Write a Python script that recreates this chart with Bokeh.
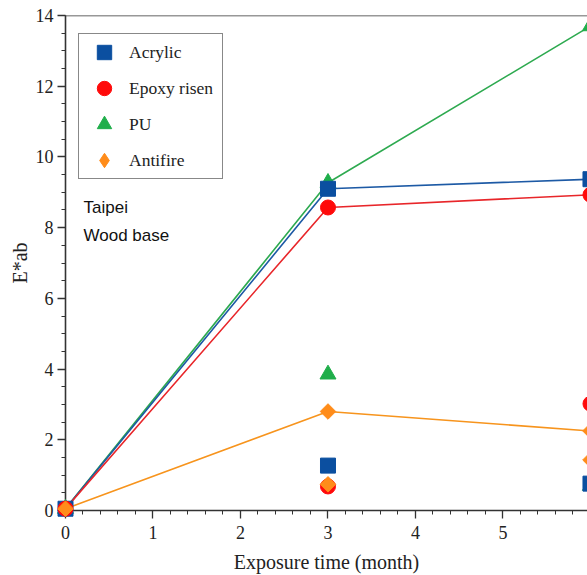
import math
from bokeh.plotting import figure
from bokeh.models import (Legend, LegendItem, Label, Span, SingleIntervalTicker,
                          Range1d)
from bokeh.embed import file_html
from bokeh.resources import INLINE

# ---- data ----
months = [0, 3, 6]
acrylic = [0.05, 9.10, 9.37]
epoxy = [0.05, 8.57, 8.93]
pu = [0.05, 9.27, 13.70]
antifire = [0.05, 2.80, 2.25]

months_b = [3, 6]
acrylic_b = [1.27, 0.76]
epoxy_b = [0.68, 3.02]
pu_b = [3.85, 0.70]
antifire_b = [0.74, 1.43]

series_names = ["Acrylic", "Epoxy risen", "PU", "Antifire"]
x_ticks_interval = 1
y_ticks_interval = 2

# ---- figure ----
p = figure(width=587, height=575, x_range=Range1d(0, 5.966), y_range=Range1d(0, 14),
           output_backend="svg", toolbar_location=None,
           min_border_left=65, min_border_right=0, min_border_top=15, min_border_bottom=65)
p.outline_line_color = None
p.grid.visible = False
p.background_fill_color = "white"
p.border_fill_color = "white"

p.xaxis.ticker = SingleIntervalTicker(interval=x_ticks_interval, num_minor_ticks=5)
p.yaxis.ticker = SingleIntervalTicker(interval=y_ticks_interval, num_minor_ticks=4)
p.xaxis.axis_label = "Exposure time (month)"
p.yaxis.axis_label = "E*ab"
for ax in (p.xaxis[0], p.yaxis[0]):
    ax.axis_line_color = "#333333"
    ax.axis_line_width = 1.6
    ax.major_tick_line_color = "#333333"
    ax.minor_tick_line_color = "#333333"
    ax.major_tick_line_width = 1.3
    ax.minor_tick_line_width = 1.0
    ax.major_tick_in = 0
    ax.major_tick_out = 8
    ax.minor_tick_in = 0
    ax.minor_tick_out = 4
    ax.major_label_text_font = "Liberation Serif"
    ax.major_label_text_font_size = "18px"
    ax.major_label_text_color = "#222222"
    ax.axis_label_text_font = "Liberation Serif"
    ax.axis_label_text_font_size = "20px"
    ax.axis_label_text_font_style = "normal"
    ax.axis_label_text_color = "#222222"
p.xaxis.major_label_standoff = 7
p.xaxis.axis_label_standoff = 9
p.yaxis.major_label_standoff = 4
p.yaxis.axis_label_standoff = 2

p.add_layout(Span(location=14, dimension="width", line_color="#333333", line_width=1.6))

colors = {"Acrylic": "#0b4fa0", "Epoxy risen": "#ff0a0a", "PU": "#1fae4a", "Antifire": "#ff8c1a"}
line_colors = {"Acrylic": "#1d5aa5", "Epoxy risen": "#e8262a", "PU": "#2eaa50", "Antifire": "#f7941d"}
markers = {"Acrylic": "square", "Epoxy risen": "circle", "PU": "triangle", "Antifire": "square"}
angles = {"Acrylic": 0, "Epoxy risen": 0, "PU": 0, "Antifire": math.pi / 4}
sizes = {"Acrylic": 15, "Epoxy risen": 15, "PU": 16, "Antifire": 11}
main_vals = {"Acrylic": acrylic, "Epoxy risen": epoxy, "PU": pu, "Antifire": antifire}
b_vals = {"Acrylic": acrylic_b, "Epoxy risen": epoxy_b, "PU": pu_b, "Antifire": antifire_b}

draw_order = ["PU", "Acrylic", "Epoxy risen", "Antifire"]
legend_r = {}
for name in draw_order:
    p.line(months, main_vals[name], line_color=line_colors[name], line_width=1.6)
for name in draw_order:
    if name == "Antifire":
        # small diamond under the rotated square; it supplies the legend's diamond symbol
        legend_r[name] = p.scatter(months, main_vals[name], marker="diamond", size=8,
                                   fill_color=colors[name], line_color=colors[name],
                                   level="overlay")
    r = p.scatter(months, main_vals[name], marker=markers[name], size=sizes[name],
                  angle=angles[name], fill_color=colors[name], line_color=colors[name],
                  level="overlay")
    if name != "Antifire":
        legend_r[name] = r
    p.scatter(months_b, b_vals[name], marker=markers[name], size=sizes[name],
              angle=angles[name], fill_color=colors[name], line_color=colors[name],
              level="overlay")

legend = Legend(items=[LegendItem(label=n, renderers=[legend_r[n]]) for n in series_names],
                location=(13, 331), padding=0, spacing=0, glyph_height=36, glyph_width=50,
                label_standoff=0, label_width=93, label_text_font="Liberation Serif",
                label_text_font_size="17.5px", label_text_color="#222222",
                border_line_color="#111111", border_line_width=1.5,
                background_fill_color="white", background_fill_alpha=1.0, margin=0)
p.add_layout(legend)

for txt, yy in (("Taipei", 303), ("Wood base", 275)):
    p.add_layout(Label(x=18, y=yy, x_units="screen", y_units="screen", text=txt,
                       text_font="Liberation Sans", text_font_size="17px",
                       text_baseline="middle", text_color="#111111"))

open("out.html", "w").write(file_html(p, INLINE))
